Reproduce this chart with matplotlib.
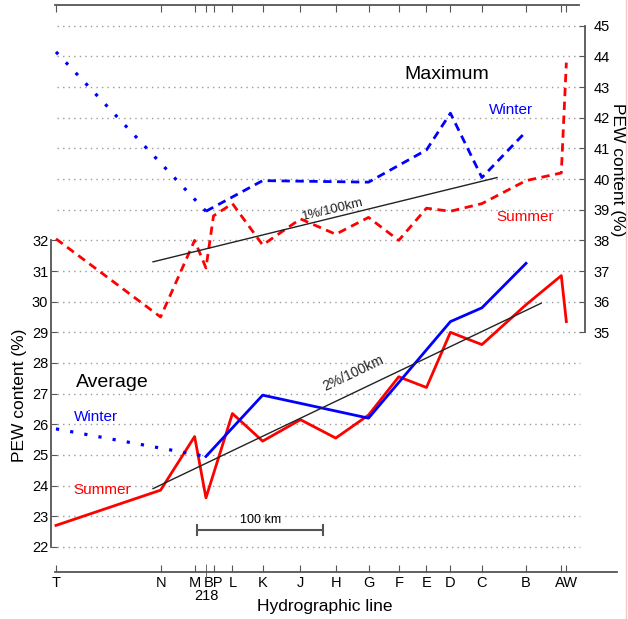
import matplotlib.pyplot as plt
from matplotlib.lines import Line2D

plt.rcParams['font.family'] = ['Liberation Sans', 'DejaVu Sans']

# hydrographic lines and their distance along the section (km)
line_names = ['T', 'N', 'M', '218', 'BP', 'L', 'K', 'J', 'H', 'G', 'F', 'E', 'D', 'C', 'B', 'A', 'W']
line_km = [0, 83, 110, 119, 125, 140, 164, 194, 222, 248, 272, 294, 313, 338, 373, 401, 405]
pos = dict(zip(line_names, line_km))

# average PEW content (%) - left axis
avg_summer_lines = ['T', 'N', 'M', '218', 'L', 'K', 'J', 'H', 'G', 'F', 'E', 'D', 'C', 'B', 'A', 'W']
avg_summer = [22.7, 23.85, 25.6, 23.6, 26.35, 25.45, 26.15, 25.55, 26.3, 27.55, 27.2, 29.0, 28.6, 29.9, 30.85, 29.35]
avg_winter_gap_lines = ['T', '218']
avg_winter_gap = [25.85, 24.95]
avg_winter_lines = ['218', 'K', 'G', 'D', 'C', 'B']
avg_winter = [24.95, 26.95, 26.2, 29.35, 29.8, 31.25]

# maximum PEW content (%) - right axis
max_summer_lines = ['T', 'N', 'M', '218', 'BP', 'L', 'K', 'J', 'H', 'G', 'F', 'E', 'D', 'C', 'B', 'A', 'W']
max_summer = [38.05, 35.5, 38.0, 37.1, 38.8, 39.2, 37.85, 38.7, 38.2, 38.75, 38.0, 39.05, 38.95, 39.2, 39.95, 40.2, 43.8]
max_winter_gap_lines = ['T', '218']
max_winter_gap = [44.15, 38.95]
max_winter_lines = ['218', 'K', 'G', 'E', 'D', 'C', 'B']
max_winter = [38.95, 39.95, 39.9, 40.95, 42.15, 40.05, 41.55]

# trend lines
avg_trend_km = [77, 385]
avg_trend = [23.9, 29.95]
max_trend_km = [77, 350]
max_trend = [37.3, 40.05]

RED = '#ff0000'
BLUE = '#0000ff'
AXC = '#555555'


def xs(names):
    return [pos[n] for n in names]


fig = plt.figure(figsize=(6.28, 6.19), dpi=100)
ax = fig.add_axes([51 / 628, 47 / 619, 566 / 628, 567 / 619])
ax.set_xlim(-3.97, 445.2)
ax.set_ylim(21.18, 39.68)

ax2 = ax.twinx()
ax2.set_ylim(27.18, 45.68)

# dotted grid
ax.hlines(range(22, 40), 0.8, 415.9, colors='#9a9a9a', linestyles=(0, (1, 3)), lw=1, zorder=0)

# average
ax.plot(xs(avg_summer_lines), avg_summer, color=RED, lw=2)
ax.plot(xs(avg_winter_gap_lines), avg_winter_gap, color=BLUE, lw=2.3, ls=(0, (1, 3.5)))
ax.plot(xs(avg_winter_lines), avg_winter, color=BLUE, lw=2)
ax.plot(avg_trend_km, avg_trend, color='#222222', lw=1)

# maximum
ax2.plot(xs(max_summer_lines), max_summer, color=RED, lw=2, ls=(0, (3, 2)))
ax2.plot(xs(max_winter_gap_lines), max_winter_gap, color=BLUE, lw=2.3, ls=(0, (1, 3.5)))
ax2.plot(xs(max_winter_lines), max_winter, color=BLUE, lw=2, ls=(0, (3, 2)))
ax2.plot(max_trend_km, max_trend, color='#222222', lw=1)

# spines
for s in ['top', 'right']:
    ax.spines[s].set_visible(False)
for s in ['top', 'left', 'bottom']:
    ax2.spines[s].set_visible(False)
ax.spines['left'].set_bounds(22, 32)
ax.spines['bottom'].set_bounds(-0.8, 445.2)
ax2.spines['right'].set_position(('data', 419.8))
ax2.spines['right'].set_bounds(35, 45)
for sp in [ax.spines['left'], ax.spines['bottom'], ax2.spines['right']]:
    sp.set_color(AXC)
    sp.set_linewidth(1.3)

ax.set_yticks(range(22, 33))
ax2.set_yticks(range(35, 46))
ax.tick_params(axis='y', direction='in', length=4.5, labelsize=10.5, color=AXC, pad=2)
ax2.tick_params(axis='y', direction='in', length=4.5, labelsize=10.5, color=AXC, pad=6)

# A and W are only a few km apart, so they share one label
major = [n for n in line_names if n != '218']
major_labels = ['' if n == 'A' else ('AW' if n == 'W' else n) for n in major]
ax.set_xticks(xs(major))
ax.set_xticklabels(major_labels)
ax.set_xticks([pos['218']], minor=True)
ax.set_xticklabels(['218'], minor=True)
ax.tick_params(axis='x', which='major', direction='in', length=5, labelsize=10.5, color=AXC, pad=3)
ax.tick_params(axis='x', which='minor', direction='inout', length=12, labelsize=10.5, color=AXC, pad=6)

# top axis line
top = ax.secondary_xaxis('top')
top.set_xticks(line_km)
top.tick_params(direction='in', length=5, labeltop=False, color=AXC)
top.spines['top'].set_bounds(-0.8, 415.1)
top.spines['top'].set_color(AXC)
top.spines['top'].set_linewidth(1.3)

# 100 km scale bar
ax.plot([112, 212], [22.55, 22.55], color=AXC, lw=1.5)
ax.plot([112, 112], [22.4, 22.7], color=AXC, lw=1.5)
ax.plot([212, 212], [22.4, 22.7], color=AXC, lw=1.5)
ax.text(162, 22.68, '100 km', ha='center', va='bottom', fontsize=9)

# annotations
ax.text(310, 37.4, 'Maximum', ha='center', va='center', fontsize=14)
ax.text(361, 36.26, 'Winter', ha='center', va='center', fontsize=11, color=BLUE)
ax.text(372, 32.77, 'Summer', ha='center', va='center', fontsize=11, color=RED)
ax.text(220, 33.0, '1%/100km', ha='center', va='center', fontsize=9.5, rotation=13.6, color='#222222')
ax.text(16, 27.35, 'Average', ha='left', va='center', fontsize=14)
ax.text(14, 26.24, 'Winter', ha='left', va='center', fontsize=11, color=BLUE)
ax.text(14, 23.86, 'Summer', ha='left', va='center', fontsize=11, color=RED)
ax.text(236, 27.68, '2%/100km', ha='center', va='center', fontsize=10, rotation=25.5, color='#222222')

fig.text(20 / 628, 1 - 395 / 619, 'PEW content (%)', rotation=90, ha='center', va='center', fontsize=12.5)
fig.text(617 / 628, 1 - 170 / 619, 'PEW content (%)', rotation=270, ha='center', va='center', fontsize=12.5)
fig.text(325 / 628, 1 - 606 / 619, 'Hydrographic line', ha='center', va='center', fontsize=12.5)

fig.add_artist(Line2D([625.5 / 628] * 2, [0, 1], color='#f6c4c4', lw=1))

fig.savefig('out.png', dpi=100)
